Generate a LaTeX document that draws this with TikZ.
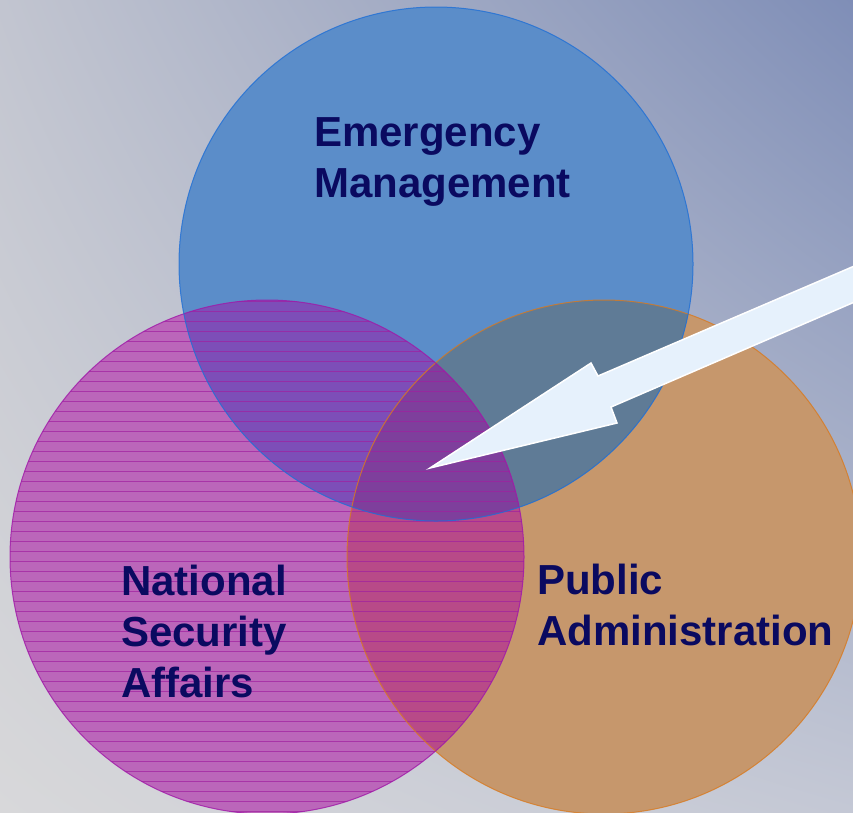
\documentclass[tikz,border=0pt]{standalone}
\usepackage{fontspec}
\setmainfont{Liberation Sans}
\usetikzlibrary{shadings}
\definecolor{bgTL}{HTML}{C2C5D0}
\definecolor{bgTR}{HTML}{7F8EB7}
\definecolor{bgBL}{HTML}{D8D8DA}
\definecolor{bgBR}{HTML}{C4C8D5}
\definecolor{cBlue}{HTML}{5B8DC9}
\definecolor{cMag}{HTML}{BB66BA}
\definecolor{cOra}{HTML}{C6976C}
\definecolor{cBO}{HTML}{5F7B96}
\definecolor{cBM}{HTML}{7D4EB8}
\definecolor{cMO}{HTML}{B84A88}
\definecolor{cBMO}{HTML}{7E3F9C}
\definecolor{eBlue}{HTML}{1F6FD6}
\definecolor{eMag}{HTML}{A018A8}
\definecolor{eOra}{HTML}{D87A20}
\definecolor{stripe}{HTML}{A020A0}
\definecolor{txt}{HTML}{0A0A60}
\definecolor{arrowfill}{HTML}{E6F1FC}
\tikzset{
  lbl/.style={text=txt, font=\fontsize{42}{51}\selectfont\bfseries, align=left, inner sep=0pt},
  bigarrow/.style={fill=arrowfill, draw=white, line width=1.5pt, line join=miter},
}
\begin{document}
\begin{tikzpicture}[x=1pt,y=-1pt]
\useasboundingbox (0,0) rectangle (853,812);
\clip (0,0) rectangle (853,812);
\shade[upper left=bgTL, upper right=bgTR, lower left=bgBL, lower right=bgBR] (0,0) rectangle (853,812);
\coordinate (cB) at (436,264);
\coordinate (cM) at (267,557);
\coordinate (cO) at (604,557);
% base fills
\fill[cOra] (cO) circle[radius=257pt];
\fill[cMag] (cM) circle[radius=257pt];
\fill[cBlue] (cB) circle[radius=257pt];
% overlaps
\begin{scope}
  \clip (cB) circle[radius=257pt];
  \fill[cBO] (cO) circle[radius=257pt];
  \fill[cBM] (cM) circle[radius=257pt];
\end{scope}
\begin{scope}
  \clip (cM) circle[radius=257pt];
  \fill[cMO] (cO) circle[radius=257pt];
  \clip (cO) circle[radius=257pt];
  \fill[cBMO] (cB) circle[radius=257pt];
\end{scope}
% stripes in magenta circle
\begin{scope}
  \clip (cM) circle[radius=257pt];
  \foreach \yy in {301,311,...,821} {
    \draw[stripe, line width=1pt, opacity=0.7] (0,\yy) -- (853,\yy);
  }
\end{scope}
% edges
\draw[eOra, line width=1pt, opacity=0.8] (cO) circle[radius=257pt];
\draw[eMag, line width=1pt, opacity=0.8] (cM) circle[radius=257pt];
\draw[eBlue, line width=1pt, opacity=0.8] (cB) circle[radius=257pt];
% labels (base anchor = baseline of last line)
\node[lbl, anchor=base west] (em) at (314,197) {Emergency\\Management};
\node[lbl, anchor=base west] (ns) at (121,697) {National\\Security\\Affairs};
\node[lbl, anchor=base west] (pa) at (537,645) {Public\\Administration};
% arrow
\coordinate (tip) at (430,468);
\coordinate (b1) at (591,363);
\coordinate (n1) at (598,376);
\coordinate (t1) at (880,255);
\coordinate (t2) at (880,291);
\coordinate (n2) at (611,407);
\coordinate (b2) at (617,423);
\draw[bigarrow] (tip) -- (b1) -- (n1) -- (t1) -- (t2) -- (n2) -- (b2) -- cycle;
\end{tikzpicture}
\end{document}
